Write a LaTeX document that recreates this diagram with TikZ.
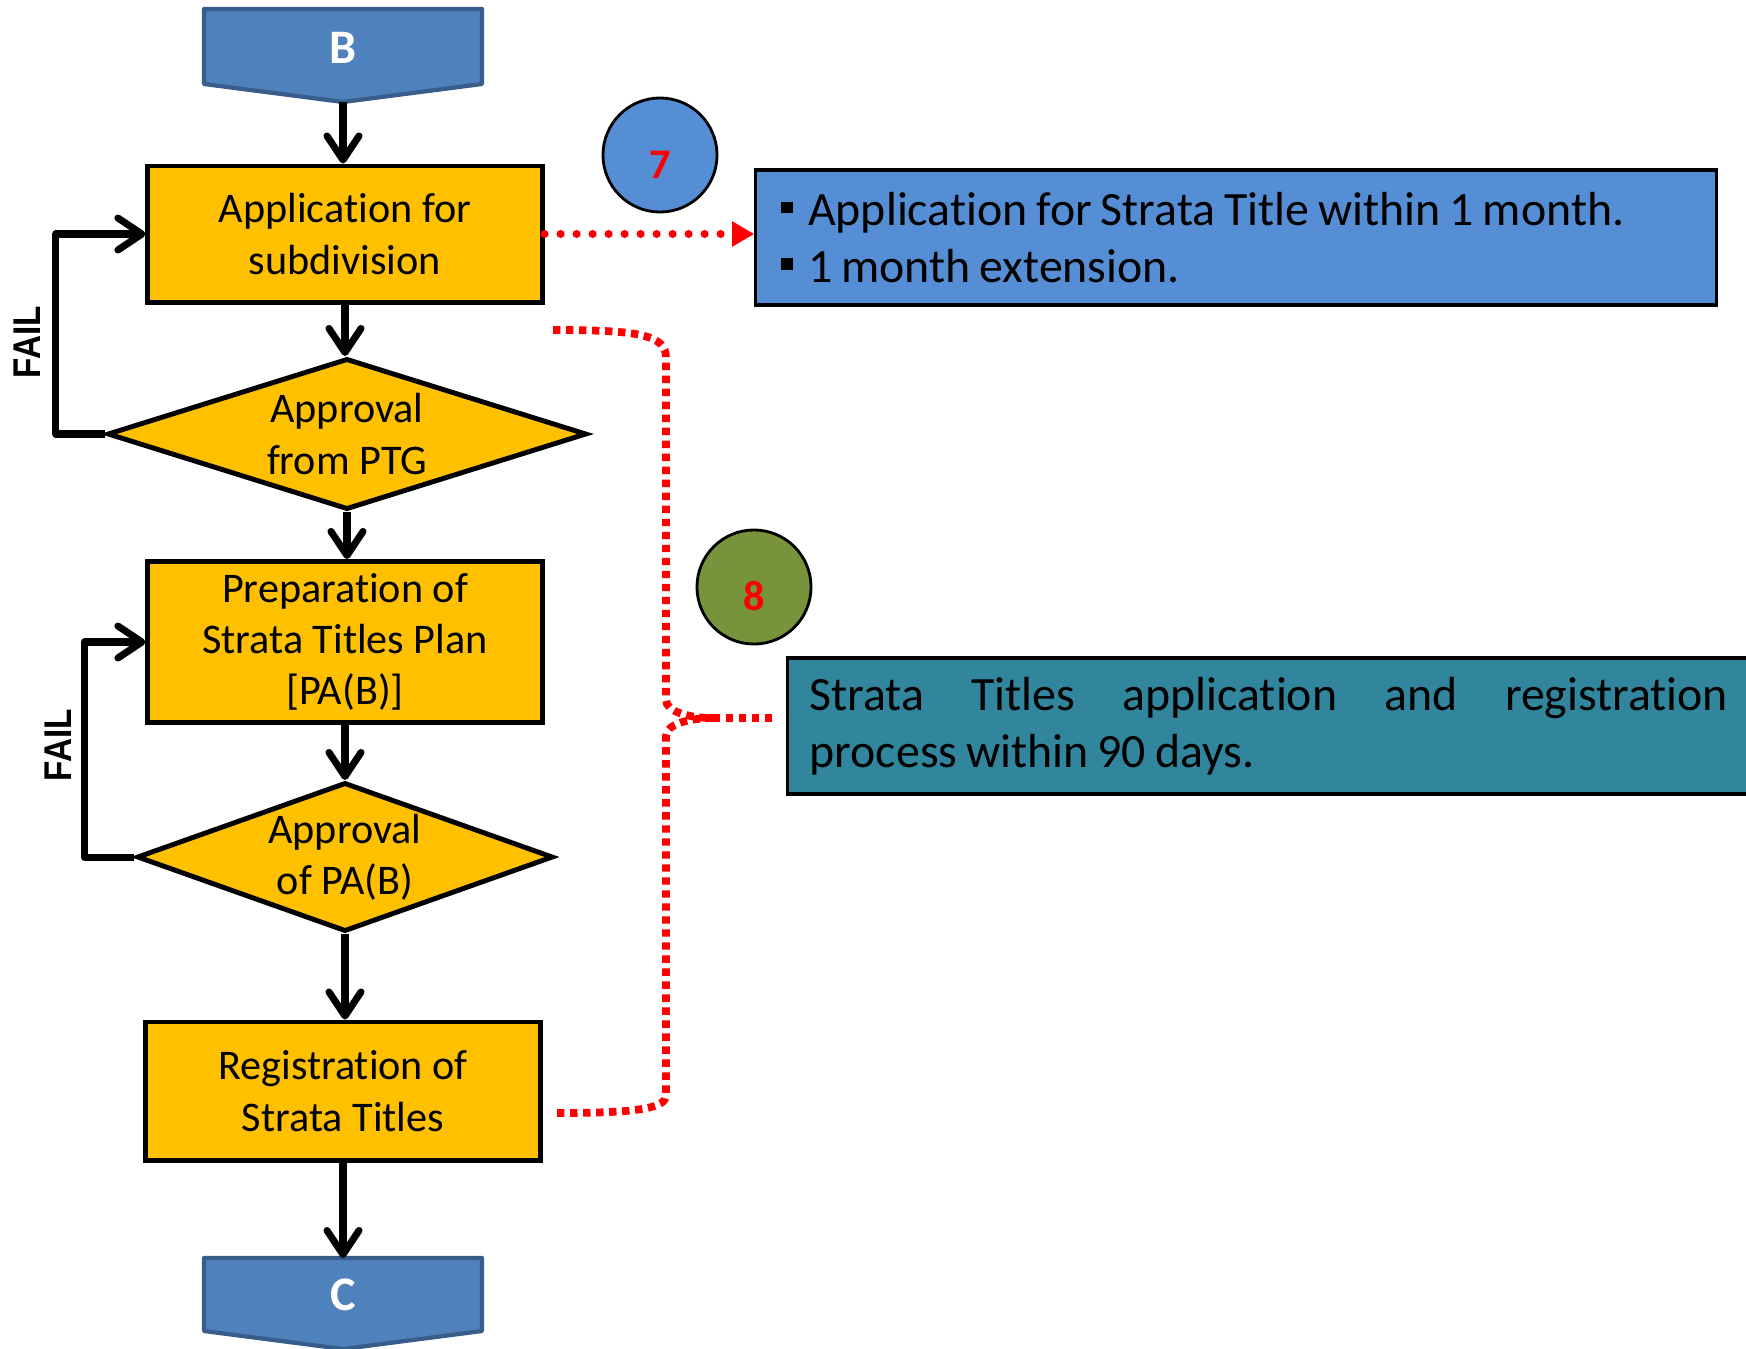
\documentclass[tikz,border=0pt]{standalone}
\usepackage{fontspec}
\setmainfont{Carlito}[Ligatures=NoCommon]
\newfontfamily\failfont{Liberation Sans}
\usetikzlibrary{arrows.meta,shapes.geometric,calc}

\definecolor{stepfill}{HTML}{FFC000}
\definecolor{termfill}{HTML}{4F81BD}
\definecolor{termline}{HTML}{385D8A}
\definecolor{noteblue}{HTML}{558ED5}
\definecolor{noteteal}{HTML}{31859C}
\definecolor{badgegreen}{HTML}{77933C}
\definecolor{linkred}{HTML}{FF0000}

% small square bullet for the note lines
\newcommand\sqbul{\raisebox{3.4pt}{\rule{3.4pt}{3.4pt}}\hspace{4.4pt}}
% digit set a little below the centre of its badge
\newcommand\badgedigit[1]{\raisebox{-6.6pt}[0pt][0pt]{#1}}
% slightly tighter word spacing for the note texts
\newcommand\notespacing{\spaceskip=2.55pt plus 1.5pt minus 0.5pt\relax}

\tikzset{
  flowbox/.style={rectangle, draw=black, line width=1.4pt, fill=stepfill,
    align=center, inner sep=0pt, font=\fontsize{12}{14.6}\selectfont},
  decision/.style={diamond, draw=black, line width=1.4pt, fill=stepfill,
    align=center, inner sep=0pt, font=\fontsize{12}{14.6}\selectfont},
  termshape/.style={fill=termfill, draw=termline, line width=1.2pt, line join=round},
  termtext/.style={text=white, inner sep=0pt, font=\bfseries\fontsize{13.7}{16}\selectfont},
  flow/.style={line width=2pt, line join=round, draw=black,
    -{Straight Barb[length=0.24cm,width=0.32cm,round]}},
  faillabel/.style={rotate=90, inner sep=0pt, font=\failfont\bfseries\fontsize{11}{12}\selectfont},
  badge/.style={circle, draw=black, line width=0.8pt, minimum size=1.14cm, inner sep=0pt,
    text=linkred, font=\bfseries\fontsize{12}{14}\selectfont},
  notebox/.style={rectangle, draw=black, line width=0.9pt, align=left, inner xsep=0pt,
    inner ysep=0pt, font=\fontsize{13.6}{16.2}\selectfont},
  dotarrow/.style={draw=linkred, line width=2.3pt, line cap=round, dash pattern=on 0pt off 4.55pt,
    -{Triangle[length=0.22cm,width=0.24cm,fill=linkred]}},
  bracket/.style={draw=linkred, line width=2.2pt, dash pattern=on 2.1pt off 1.6pt}
}

\begin{document}
\begin{tikzpicture}[x=0.01cm,y=-0.01cm]
\useasboundingbox (0,0) rectangle (1746,1348);

% start and end terminals
\path[termshape] (204,9) -- (482,9) -- (482,84) -- (343,102) -- (204,84) -- cycle;
\node[termtext] (B) at (343,48) {B};
\coordinate (Btip) at (343,102);

\path[termshape] (204,1258) -- (482,1258) -- (482,1331) -- (343,1349) -- (204,1331) -- cycle;
\node[termtext] (C) at (343,1295) {C};
\coordinate (Ctop) at (343,1258);

% process steps and decisions
\node[flowbox, minimum width=3.94cm, minimum height=1.36cm] (app) at (345,234) {Application for\\subdivision};
\node[decision, aspect=3.17, minimum width=4.79cm, minimum height=1.51cm] (ptg) at (347,434) {Approval\\from PTG};
\node[flowbox, minimum width=3.94cm, minimum height=1.61cm] (prep) at (345,642) {Preparation of\\Strata Titles Plan\\{[PA(B)]}};
\node[decision, aspect=2.79, minimum width=4.16cm, minimum height=1.49cm] (pab) at (345,857) {Approval\\of PA(B)};
\node[flowbox, minimum width=3.95cm, minimum height=1.38cm] (reg) at (343,1091) {Registration of\\Strata Titles};

% main flow
\draw[flow] (Btip) -- (Btip |- app.north);
\draw[flow] (app.south) -- (app.south |- ptg.north);
\draw[flow] (ptg.south) -- (ptg.south |- prep.north);
\draw[flow] (prep.south) -- (prep.south |- pab.north);
\draw[flow] (pab.south) -- (pab.south |- reg.north);
\draw[flow] (reg.south) -- (Ctop);

% failure loops
\draw[flow] (ptg.west) -- ++(-49,0) |- (app.west);
\draw[flow] (pab.west) -- ++(-50,0) |- (prep.west);
\node[faillabel] (fail1) at (27,342) {\scalebox{0.86}[1]{FAIL}};
\node[faillabel] (fail2) at (58,745) {\scalebox{0.86}[1]{FAIL}};

% numbered badges
\node[badge, fill=noteblue] (n7) at (660,155) {\badgedigit{7}};
\node[badge, fill=badgegreen] (n8) at (754,587) {\badgedigit{8}};

% notes
\node[notebox, fill=noteblue, minimum width=9.6cm, minimum height=1.35cm, text width=9.1cm]
  (note7) at (1236,237.5) {\notespacing\sqbul Application for Strata Title within 1 month.\\\sqbul 1 month extension.};
\node[notebox, fill=noteteal, minimum width=9.62cm, minimum height=1.36cm, text width=9.18cm]
  (note8) at (1269,726) {\notespacing\hbox to 9.18cm{Strata\hfill Titles\hfill application\hfill and\hfill registration}\\process within 90 days.};

% links to the notes
\draw[dotarrow] (app.east) -- (app.east -| note7.west);

\coordinate (brtop) at (553,330);
\coordinate (brbot) at (557,1113);
\coordinate (brmid) at (713,718);
\draw[bracket] (brtop) .. controls (640,330) and (666,335) .. (666,358) -- (666,700)
  .. controls (666,712) and (690,718) .. (brmid);
\draw[bracket, shorten >=0.09cm] (brmid) -- (brmid -| note8.west);
\draw[bracket] (brmid) .. controls (690,718) and (666,724) .. (666,736) -- (666,1095)
  .. controls (666,1108) and (640,1113) .. (brbot);
\end{tikzpicture}
\end{document}
